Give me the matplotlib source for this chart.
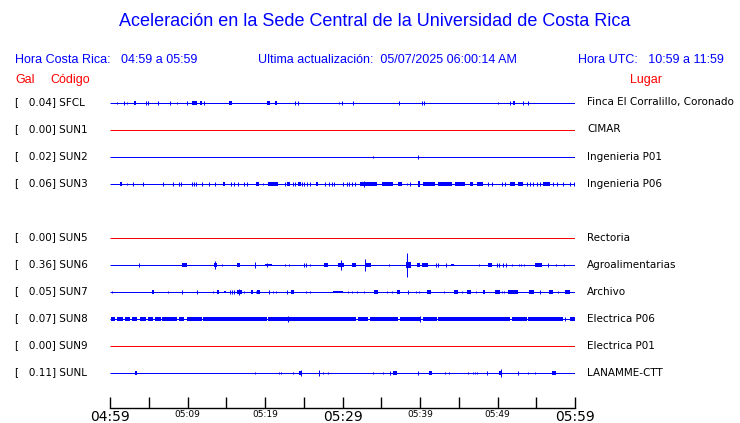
import matplotlib
matplotlib.use("Agg")
import matplotlib.pyplot as plt

# ---------------- data ----------------
codes = ["SFCL", "SUN1", "SUN2", "SUN3", "SUN5", "SUN6", "SUN7", "SUN8", "SUN9", "SUNL"]
gal = [0.04, 0.00, 0.02, 0.06, 0.00, 0.36, 0.05, 0.07, 0.00, 0.11]
places = ["Finca El Corralillo, Coronado", "CIMAR", "Ingenieria P01", "Ingenieria P06",
          "Rectoria", "Agroalimentarias", "Archivo", "Electrica P06", "Electrica P01", "LANAMME-CTT"]
rows = [0, 1, 2, 3, 5, 6, 7, 8, 9, 10]

# events per station: (start minute, end minute, relative amplitude)
ev_sfcl = [(0.9, 0.9, .04), (1.8, 1.8, .06), (2.2, 2.2, .04), (3.1, 3.4, .06), (4.6, 4.6, .06),
           (4.9, 4.9, .06), (6.2, 6.2, .06), (7.7, 7.7, .06), (8.6, 8.6, .04), (9.9, 9.9, .06),
           (10.6, 11.2, .06), (11.6, 11.9, .06), (12.1, 12.1, .06), (15.4, 15.8, .06),
           (20.2, 20.6, .06), (21.3, 21.5, .06), (23.9, 23.9, .06), (24.3, 24.3, .06),
           (29.5, 29.5, .04), (29.9, 29.9, .06), (31.4, 31.4, .06), (37.3, 37.3, .06),
           (40.3, 40.3, .06), (40.5, 40.5, .06), (50.1, 50.1, .04), (51.6, 51.6, .06),
           (52.0, 52.2, .06), (53.3, 53.3, .06), (53.9, 53.9, .06)]
ev_sun1 = []
ev_sun2 = [(33.9, 33.9, .05), (39.7, 39.7, .07)]
ev_sun3 = [(1.3, 1.6, .07), (2.2, 2.2, .04), (3.0, 3.0, .07), (4.3, 4.3, .06), (6.8, 6.8, .06),
           (8.1, 8.1, .06), (8.9, 8.9, .06), (9.2, 9.2, .06), (10.6, 10.6, .06), (10.8, 10.8, .06),
           (11.1, 11.1, .06), (11.9, 11.9, .06), (12.8, 12.8, .06), (13.5, 13.5, .06),
           (14.6, 14.9, .06), (15.6, 15.6, .06), (16.0, 16.0, .06), (16.5, 16.5, .06),
           (17.3, 17.3, .06), (17.7, 17.7, .06), (18.9, 19.2, .06), (19.7, 19.7, .04),
           (20.4, 21.7, .07), (22.6, 22.6, .06), (22.9, 23.2, .07), (23.6, 23.6, .06),
           (23.9, 23.9, .06), (24.3, 24.6, .06), (24.8, 24.8, .06), (25.0, 25.0, .06),
           (25.4, 25.4, .06), (25.8, 25.8, .06), (26.6, 26.9, .06), (27.7, 27.7, .06),
           (28.3, 28.3, .06), (28.6, 28.6, .06), (28.9, 28.9, .06), (30.1, 30.1, .06),
           (30.6, 30.6, .06), (30.8, 30.8, .06), (31.2, 31.2, .06), (31.6, 31.6, .06),
           (32.3, 34.5, .06), (32.8, 32.8, .1), (35.1, 36.5, .06), (37.2, 37.7, .06),
           (38.3, 38.3, .05), (38.7, 38.7, .06), (39.7, 40.0, .1), (40.4, 41.9, .06),
           (42.3, 44.1, .06), (44.5, 45.8, .06), (46.5, 46.8, .06), (47.4, 48.1, .06),
           (48.8, 48.8, .06), (49.3, 49.3, .06), (50.6, 50.6, .06), (51.0, 51.0, .06),
           (51.6, 52.3, .06), (52.6, 53.3, .06), (53.8, 53.8, .06), (54.2, 54.2, .06),
           (54.6, 54.6, .06), (55.1, 55.1, .06), (55.5, 55.5, .06), (55.9, 56.8, .06),
           (57.2, 57.2, .06), (57.7, 57.7, .06), (58.5, 58.5, .06), (59.4, 59.4, .06),
           (59.9, 59.9, .06)]
ev_sun5 = []
ev_sun6 = [(3.7, 3.7, .06), (9.3, 9.9, .06), (13.5, 13.5, .15), (13.4, 13.8, .06),
           (14.5, 14.5, .05), (16.4, 16.8, .06), (18.7, 18.7, .1), (20.0, 20.9, .05),
           (20.3, 20.3, .07), (22.6, 22.6, .05), (23.1, 23.1, .03), (25.0, 25.0, .06),
           (25.3, 25.3, .06), (25.8, 25.8, .04), (27.6, 28.1, .07), (29.4, 30.2, .09),
           (29.8, 29.8, .2), (31.2, 31.7, .08), (32.9, 32.9, .22), (33.0, 33.7, .08),
           (36.0, 36.0, .04), (38.3, 38.3, .43), (38.2, 38.8, .1), (39.6, 40.0, .06),
           (40.3, 41.0, .07), (42.1, 42.1, .06), (42.3, 42.3, .06), (43.4, 43.4, .06),
           (44.0, 44.4, .05), (47.6, 47.6, .04), (48.8, 49.3, .06), (49.9, 49.9, .06),
           (50.2, 50.2, .06), (50.7, 50.7, .06), (51.1, 51.1, .06), (51.9, 51.9, .05),
           (52.8, 52.8, .05), (53.0, 53.0, .05), (53.4, 53.4, .05), (54.8, 55.7, .06),
           (56.5, 56.5, .06), (57.5, 57.5, .04), (58.6, 58.6, .05)]
ev_sun7 = [(0.3, 0.3, .04), (5.4, 5.7, .06), (7.5, 7.5, .04), (9.3, 9.3, .06), (11.2, 11.2, .06),
           (13.3, 13.3, .04), (13.8, 14.1, .06), (14.7, 15.0, .05), (15.5, 15.5, .06),
           (15.7, 15.7, .06), (16.0, 16.0, .06), (16.4, 17.0, .06), (16.6, 16.6, .1),
           (17.3, 17.3, .04), (18.2, 18.5, .06), (18.8, 18.8, .04), (19.0, 19.3, .06),
           (20.5, 20.5, .06), (21.0, 21.0, .05), (21.4, 21.4, .05), (22.8, 22.8, .06),
           (23.4, 23.7, .06), (25.3, 25.3, .05), (25.8, 25.8, .04), (28.8, 29.9, .05),
           (29.7, 30.1, .05), (30.7, 30.7, .05), (31.2, 31.2, .05), (31.9, 31.9, .05),
           (32.8, 32.8, .05), (34.1, 34.6, .06), (35.7, 35.7, .05), (36.4, 36.4, .05),
           (37.0, 37.4, .06), (38.5, 38.5, .06), (39.5, 39.5, .05), (39.9, 39.9, .05),
           (40.9, 41.4, .06), (43.1, 43.1, .05), (44.4, 44.9, .06), (45.4, 45.4, .04),
           (46.1, 46.6, .06), (47.2, 47.2, .05), (48.1, 48.4, .06), (49.7, 50.3, .06),
           (50.6, 50.6, .05), (50.8, 50.8, .05), (51.4, 52.6, .06), (54.1, 54.7, .06),
           (55.5, 55.5, .06), (56.6, 57.2, .06), (57.8, 57.8, .05), (58.7, 59.4, .06)]
ev_sun8 = [(0.1, 0.6, .06), (0.9, 1.7, .06), (1.9, 2.6, .06), (2.8, 3.5, .06),
           (3.9, 4.6, .06), (4.9, 5.5, .06), (5.8, 6.6, .06), (6.7, 8.6, .06),
           (8.9, 9.5, .06), (9.9, 11.9, .06), (12.0, 19.6, .06), (19.6, 20.3, .06),
           (20.4, 30.3, .06), (23.0, 23.0, .11), (30.3, 31.7, .06), (32.0, 33.3, .06),
           (33.5, 37.2, .06), (37.4, 39.6, .06), (39.6, 40.1, .06), (40.0, 40.0, .11),
           (40.4, 42.2, .06), (42.3, 51.6, .06), (51.9, 53.8, .06), (53.9, 58.5, .06),
           (58.7, 58.7, .06), (59.4, 60.0, .06)]
ev_sun9 = []
ev_sunl = [(3.2, 3.5, .06), (18.7, 18.7, .05), (21.8, 21.8, .05), (22.1, 22.1, .05),
           (23.6, 23.6, .05), (24.6, 24.6, .1), (24.4, 24.8, .06), (27.0, 27.0, .1),
           (27.5, 27.5, .04), (28.1, 28.1, .04), (33.9, 33.9, .05), (35.2, 35.2, .05),
           (36.1, 36.1, .06), (36.5, 37.0, .06), (39.7, 39.7, .06), (41.2, 41.5, .06),
           (43.2, 43.2, .04), (43.7, 43.7, .04), (46.2, 46.2, .05), (46.8, 46.8, .05),
           (47.1, 47.1, .05), (47.4, 47.4, .05), (48.6, 48.6, .06), (50.4, 50.4, .13),
           (50.2, 50.6, .07), (52.6, 52.6, .06), (53.9, 53.9, .05), (54.8, 54.8, .04),
           (57.0, 57.5, .06)]
events = [ev_sfcl, ev_sun1, ev_sun2, ev_sun3, ev_sun5, ev_sun6, ev_sun7, ev_sun8, ev_sun9, ev_sunl]

tick_minutes = [0, 5, 10, 15, 20, 25, 30, 35, 40, 45, 50, 55, 60]
tick_labels = ["04:59", "", "05:09", "", "05:19", "", "05:29", "", "05:39", "", "05:49", "", "05:59"]
major_labels = ["04:59", "05:29", "05:59"]

title = "Aceleración en la Sede Central de la Universidad de Costa Rica"
hora_cr = "Hora Costa Rica:   04:59 a 05:59"
ultima = "Ultima actualización:  05/07/2025 06:00:14 AM"
hora_utc = "Hora UTC:   10:59 a 11:59"

# ---------------- figure ----------------
W, H = 740, 423
fig = plt.figure(figsize=(W / 100, H / 100), dpi=100)
fig.patch.set_facecolor("white")
BLUE = "#0000ff"
RED = "#ff0000"
hfont = "Liberation Sans"
LW = 0.72  # one pixel


def fx(px):
    return px / W


def fy(py):
    return 1 - py / H


fig.text(fx(375), fy(22), title, color=BLUE, fontsize=13, family=hfont, ha="center", va="center")
fig.text(fx(15), fy(60), hora_cr, color=BLUE, fontsize=9, family=hfont, ha="left", va="center")
fig.text(fx(387), fy(60), ultima, color=BLUE, fontsize=9, family=hfont, ha="center", va="center")
fig.text(fx(724), fy(60), hora_utc, color=BLUE, fontsize=9, family=hfont, ha="right", va="center")
fig.text(fx(15), fy(80), "Gal", color=RED, fontsize=9, family=hfont, ha="left", va="center")
fig.text(fx(50), fy(80), "Código", color=RED, fontsize=9, family=hfont, ha="left", va="center")
fig.text(fx(630), fy(80), "Lugar", color=RED, fontsize=9, family=hfont, ha="left", va="center")

# traces axes
x0, x1 = 110, 575
top, bottom = 103 - 13.5, 103 + 27 * 10 + 13.5
ax = fig.add_axes([fx(x0), fy(bottom), (x1 - x0) / W, (bottom - top) / H])
ax.set_xlim(0, 60)
ax.set_ylim(10.5, -0.5)
ax.axis("off")

for code, g, place, r, evs in zip(codes, gal, places, rows, events):
    col = RED if g == 0 else BLUE
    ax.plot([0, 60], [r, r], color=col, lw=LW, solid_capstyle="butt", snap=True)
    for t0, t1, a in evs:
        if t1 == t0:
            ax.plot([t0, t0], [r - a, r + a], color=col, lw=LW, solid_capstyle="butt", snap=True)
        else:
            ax.bar(t0, 2 * a, width=t1 - t0, bottom=r - a, align="edge", color=col, lw=0)
    ypx = 102.5 + 27 * r
    fig.text(fx(15), fy(ypx), f"[   {g:.2f}] {code}", color="black", fontsize=7.5,
             family="DejaVu Sans", ha="left", va="center")
    fig.text(fx(587), fy(ypx), place, color="black", fontsize=7.5,
             family="DejaVu Sans", ha="left", va="center")

# time axis
tax = fig.add_axes([fx(x0), fy(408), (x1 - x0) / W, 12 / H])
tax.set_xlim(0, 60)
tax.set_ylim(0, 1)
tax.patch.set_visible(False)
for s in ["top", "left", "right"]:
    tax.spines[s].set_visible(False)
tax.spines["bottom"].set_linewidth(1)
tax.set_yticks([])
tax.set_xticks(tick_minutes)
tax.set_xticklabels(tick_labels)
tax.tick_params(axis="x", direction="in", length=8, width=1, pad=1.5, colors="black")
for lab in tax.get_xticklabels():
    lab.set_family("DejaVu Sans")
    if lab.get_text() in major_labels:
        lab.set_fontsize(10)
    else:
        lab.set_fontsize(6.5)

fig.savefig("out.png", dpi=100, facecolor="white")
